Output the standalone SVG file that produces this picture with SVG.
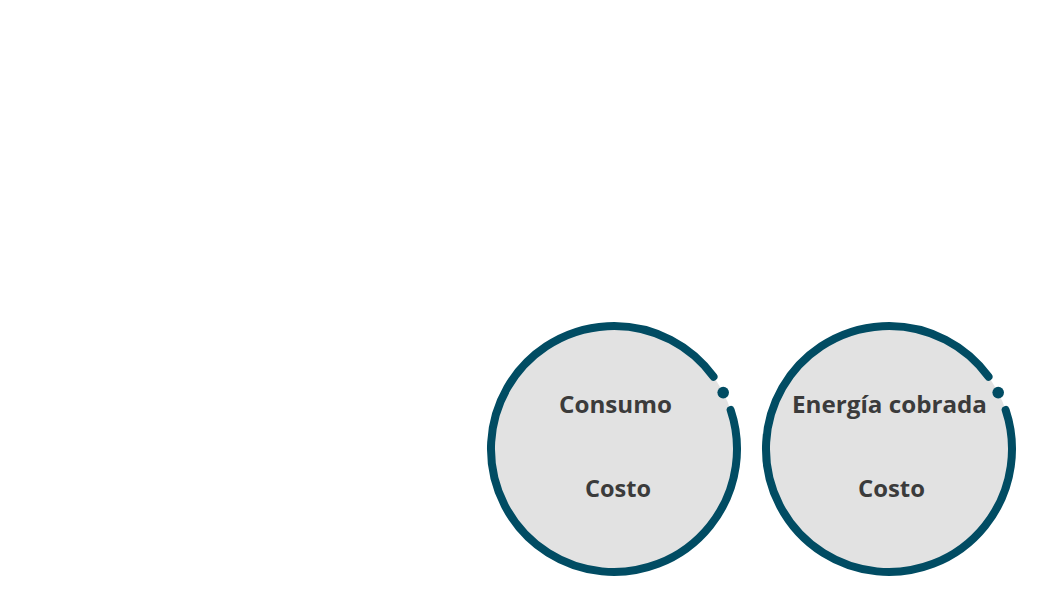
<svg xmlns="http://www.w3.org/2000/svg" width="1057" height="599" viewBox="0 0 1057 599">
<style>
.bg{fill:#e2e2e2;stroke:none}
.ring{fill:none;stroke:#014c63;stroke-width:8;stroke-linecap:round}
.dot{fill:#014c63}
.t{font-family:"Open Sans","Liberation Sans",sans-serif;font-weight:700;font-size:23px;fill:#3b3b3b;text-anchor:middle}
</style>
<rect width="1057" height="599" fill="#ffffff"/>
<g id="node-consumo">
<circle class="bg" cx="614" cy="449" r="123"/>
<path class="ring" d="M730.64 409.97 A123 123 0 1 1 713.51 376.70"/>
<circle class="dot" cx="723.2" cy="392.6" r="5.8"/>
<text class="t" x="615.5" y="413" textLength="113" lengthAdjust="spacingAndGlyphs">Consumo</text>
<text class="t" x="618" y="497" textLength="66" lengthAdjust="spacingAndGlyphs">Costo</text>
</g>
<g id="node-energia">
<circle class="bg" cx="889" cy="449" r="123"/>
<path class="ring" d="M1005.64 409.97 A123 123 0 1 1 988.51 376.70"/>
<circle class="dot" cx="998.2" cy="392.6" r="5.8"/>
<text class="t" x="889.5" y="413" textLength="195" lengthAdjust="spacingAndGlyphs">Energía cobrada</text>
<text class="t" x="891.5" y="497" textLength="67" lengthAdjust="spacingAndGlyphs">Costo</text>
</g>
<g id="connectors"></g>
</svg>
